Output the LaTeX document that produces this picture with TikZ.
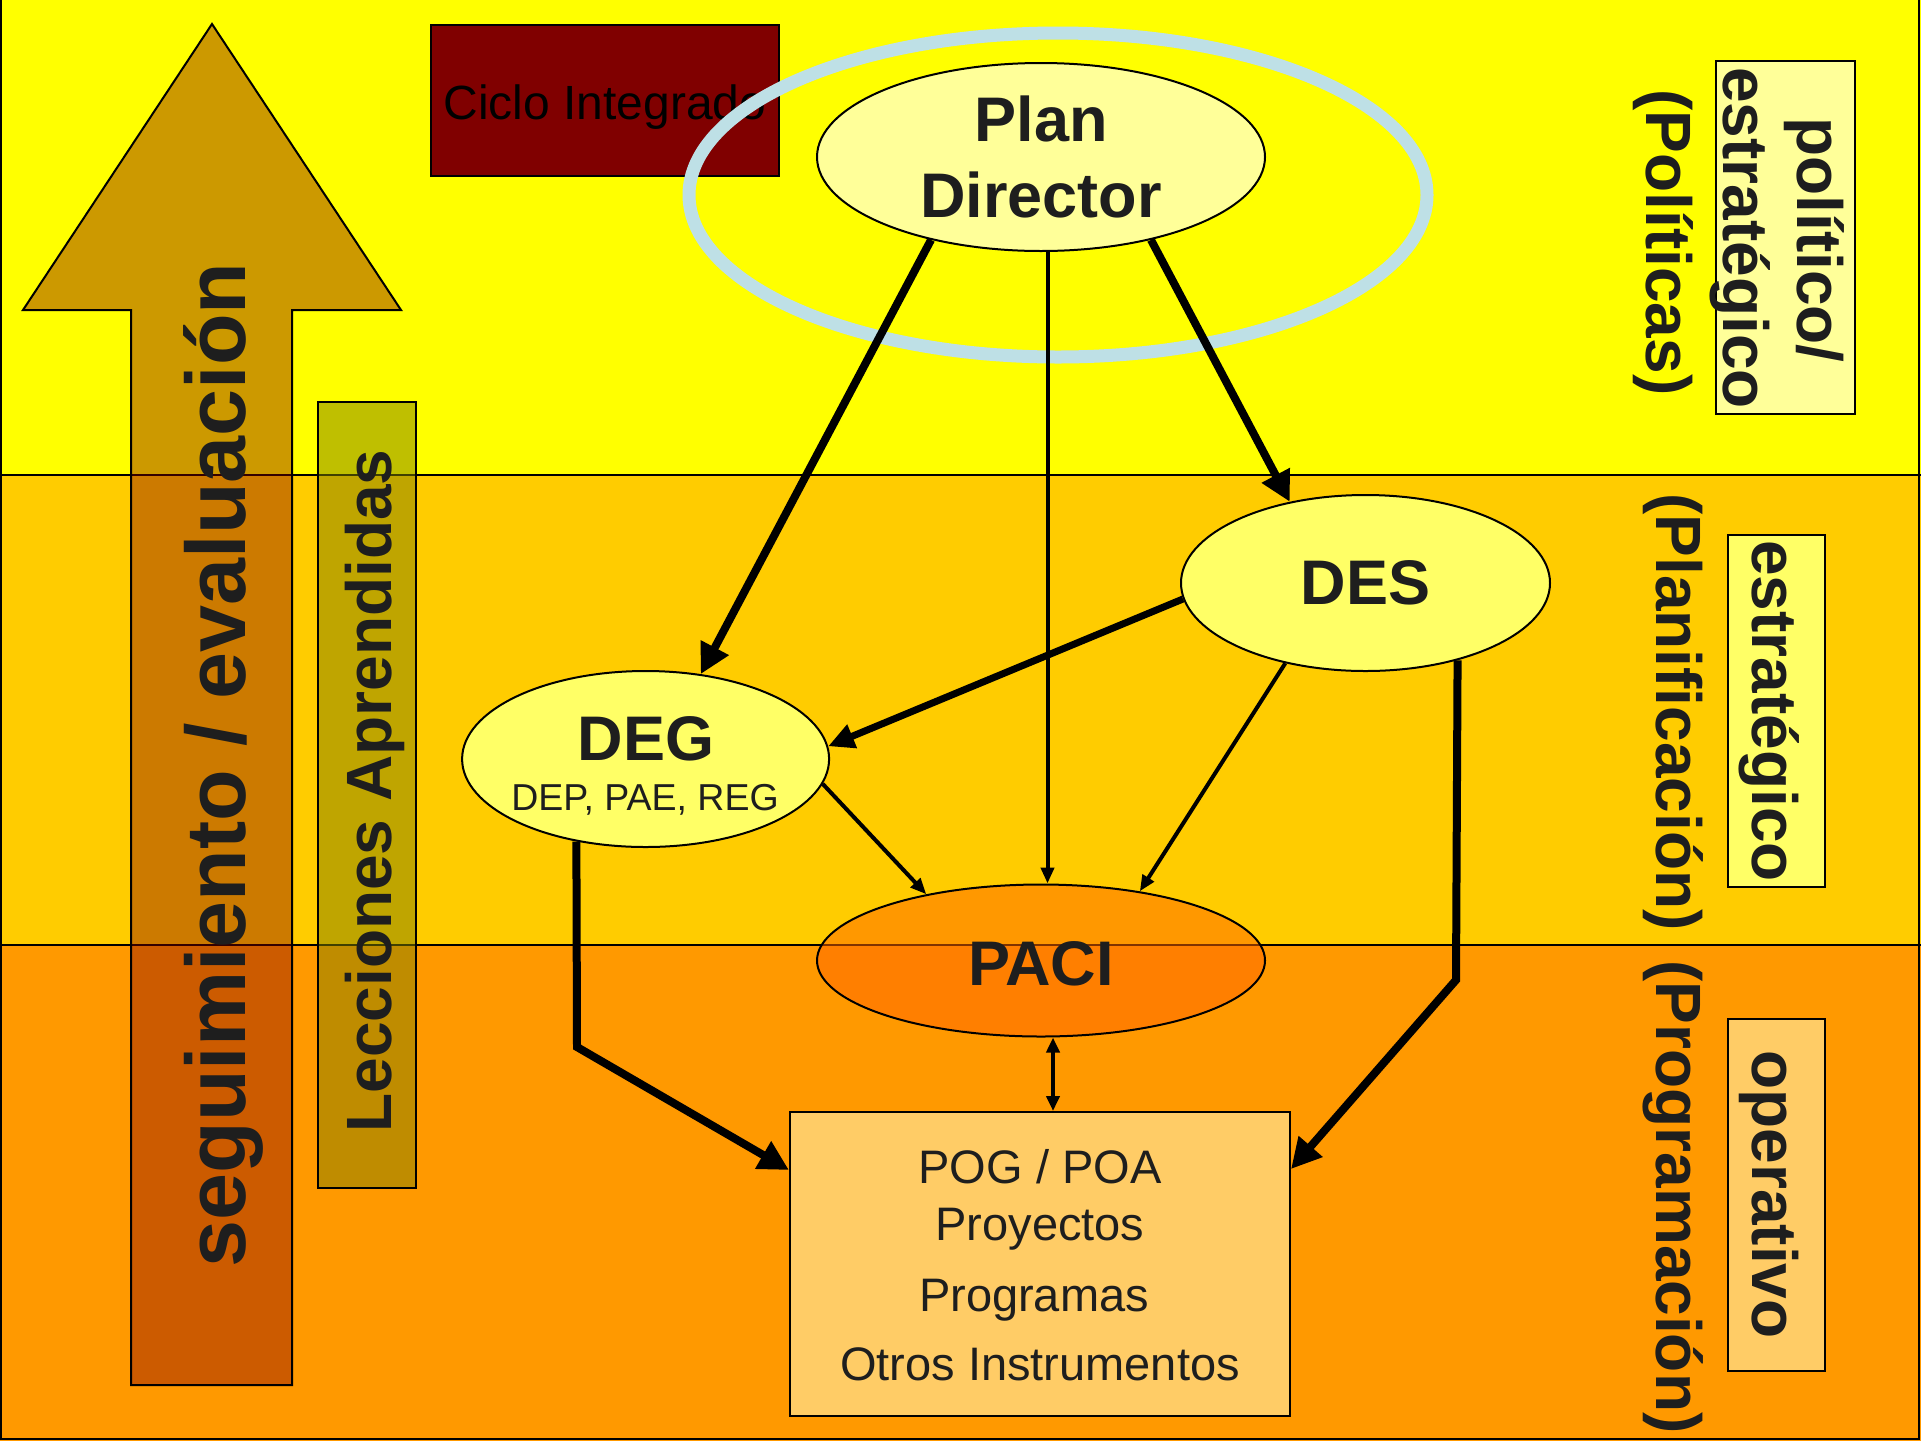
\documentclass[tikz,border=0pt]{standalone}
\usepackage{fontspec}
\setmainfont{Liberation Sans}
\usetikzlibrary{shapes.geometric,arrows.meta}
\definecolor{bandA}{HTML}{FFFF00}
\definecolor{bandB}{HTML}{FFCC00}
\definecolor{bandC}{HTML}{FF9900}
\definecolor{paleY}{HTML}{FFFF99}
\definecolor{midY}{HTML}{FFFF66}
\definecolor{lightO}{HTML}{FFCC66}
\definecolor{paciO}{HTML}{FF6600}
\definecolor{maroonC}{HTML}{800000}
\definecolor{oliveC}{HTML}{808000}
\definecolor{iceB}{HTML}{BEE0E6}
\definecolor{ink}{HTML}{1E1E1E}
\tikzset{
  bandline/.style={line width=2pt},
  ov/.style={ellipse, draw=black, line width=2pt, inner sep=0pt},
  bigarrow/.style={line width=8pt, -{Triangle[length=30pt,width=30pt]}},
  medarrow/.style={line width=7pt, -{Triangle[length=26pt,width=24pt]}},
  thinarrow/.style={line width=4pt, -{Triangle[length=16pt,width=13pt]}},
  dblarrow/.style={line width=4pt, {Triangle[length=15pt,width=13pt]}-{Triangle[length=15pt,width=13pt]}},
  bigtxt/.style={text=ink, font=\bfseries\fontsize{63}{76}\selectfont, align=center},
  sidetxt/.style={text=ink, font=\bfseries\fontsize{64}{76}\selectfont, rotate=-90, anchor=base, inner sep=0pt},
  sidebox/.style={draw=black, line width=2pt, inner sep=0pt},
  pogtxt/.style={text=ink, font=\fontsize{47}{56}\selectfont, anchor=base, inner sep=0pt},
}
\begin{document}
\begin{tikzpicture}[x=1pt,y=-1pt]
\useasboundingbox (0,0) rectangle (1921,1441);
% bands
\fill[bandA] (0,0) rectangle (1921,475);
\fill[bandB] (0,475) rectangle (1921,945);
\fill[bandC] (0,945) rectangle (1921,1441);
\draw[bandline] (0,475) -- (1921,475);
\draw[bandline] (0,945) -- (1921,945);
\draw[bandline] (1,0) -- (1,1439) -- (1919,1439) -- (1919,0);
% big upward arrow
\draw[line width=2pt, fill=maroonC, fill opacity=0.4]
  (212,24) -- (401,310) -- (292,310) -- (292,1385) -- (131,1385) -- (131,310) -- (23,310) -- cycle;
% Lecciones box
\node[sidebox, fill=oliveC, fill opacity=0.5, minimum width=98pt, minimum height=786pt] (lecbox) at (367,795) {};
% Ciclo Integrado
\node[sidebox, fill=maroonC, minimum width=348pt, minimum height=151pt] (ciclo) at (605,100) {};
\node[text=black, font=\fontsize{48}{56}\selectfont, anchor=base, inner sep=0pt] (ciclotxt) at (605,119) {Ciclo Integrado};
% light blue ring
\node[ellipse, draw=iceB, line width=13pt, minimum width=738pt, minimum height=324pt, inner sep=0pt] (ring) at (1058,195) {};
% main nodes
\node[ov, fill=paleY, minimum width=448pt, minimum height=188pt, bigtxt] (plan) at (1041,157) {Plan\\Director};
\node[ov, fill=midY, minimum width=369pt, minimum height=176pt, bigtxt] (des) at (1365.5,583) {DES};
\node[ov, fill=midY, minimum width=367pt, minimum height=176pt] (deg) at (645.6,759) {};
\node[text=ink, font=\bfseries\fontsize{63}{76}\selectfont, anchor=base, inner sep=0pt] (degA) at (646,760) {DEG};
\node[text=ink, font=\fontsize{37.5}{44}\selectfont, anchor=base, inner sep=0pt] (degB) at (645,810) {DEP, PAE, REG};
\node[ov, fill=paciO, fill opacity=0.5, minimum width=448pt, minimum height=152pt] (paci) at (1041,960.5) {};
\node[text=ink, font=\bfseries\fontsize{63}{76}\selectfont, anchor=base, inner sep=0pt] (pacitxt) at (1041,985) {PACI};
\node[sidebox, fill=lightO, minimum width=500pt, minimum height=304pt] (pog) at (1040,1264) {};
\node[pogtxt] (pog1) at (1040,1183) {POG / POA};
\node[pogtxt] (pog2) at (1040,1240) {Proyectos};
\node[pogtxt] (pog3) at (1034,1311) {Programas};
\node[pogtxt] (pog4) at (1040,1380) {Otros Instrumentos};
% connectors
\coordinate (degbend) at (577,1047);
\coordinate (desbend) at (1456,980);
\draw[bigarrow] (plan.217) -- (deg.57);
\draw[bigarrow] (plan.323) -- (des.133);
\draw[thinarrow] ([xshift=6.5pt]plan.south) -- ([xshift=6.5pt]paci.north);
\draw[medarrow] (des.185) -- (deg.4);
\draw[thinarrow] (des.225) -- (paci.35);
\draw[thinarrow] (deg.352) -- (paci.150);
\draw[bigarrow] (deg.230) -- (degbend) -- ([yshift=-59pt]pog.north west);
\draw[bigarrow] (des.320) -- (desbend) -- ([yshift=-58pt]pog.north east);
\draw[dblarrow] ([xshift=12pt]paci.south) -- ([xshift=13pt]pog.north);
% right side labels
\node[sidebox, fill=paleY, minimum width=139pt, minimum height=353pt] (polbox) at (1785.5,237.5) {};
\node[sidebox, fill=midY, minimum width=97pt, minimum height=352pt] (estbox) at (1776.5,711) {};
\node[sidebox, fill=lightO, minimum width=97pt, minimum height=352pt] (opbox) at (1776.5,1195) {};
\node[sidetxt] (pol1) at (1797,240) {político/};
\node[sidetxt] (pol2) at (1723,238) {estratégico};
\node[sidetxt] (est) at (1752,711) {estratégico};
\node[sidetxt] (op) at (1752,1194.5) {operativo};
\node[sidetxt] (polit) at (1646,242.5) {(Políticas)};
\node[sidetxt] (plani) at (1656,712) {(Planificación)};
\node[sidetxt] (progr) at (1656,1197) {(Programación)};
% left rotated texts
\node[text=ink, font=\bfseries\fontsize{84.5}{100}\selectfont, rotate=90, anchor=base, inner sep=0pt] (seg) at (245,765) {seguimiento / evaluación};
\node[text=ink, font=\bfseries\fontsize{64}{76}\selectfont, rotate=90, anchor=base, inner sep=0pt] (lec) at (391,791) {Lecciones Aprendidas};
\end{tikzpicture}
\end{document}
